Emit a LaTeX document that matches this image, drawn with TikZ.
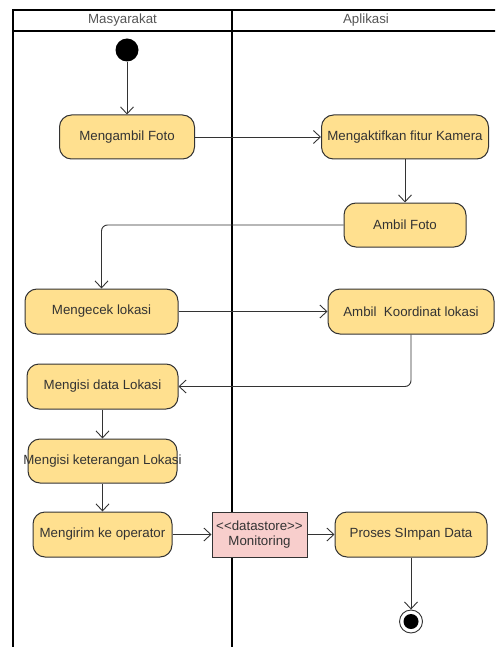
\documentclass[tikz,border=0pt]{standalone}
\usepackage{fontspec}
\setmainfont{Liberation Sans}
\usetikzlibrary{arrows.meta}
\definecolor{actfill}{HTML}{FFE08F}
\definecolor{actdraw}{HTML}{333333}
\definecolor{dsfill}{HTML}{F8CECC}
\definecolor{txt}{HTML}{333333}
\definecolor{hdr}{HTML}{555555}
\begin{document}
\begin{tikzpicture}[x=1pt,y=-1pt,
  font=\fontsize{13.3}{14.7}\selectfont,
  act/.style={draw=actdraw, fill=actfill, rounded corners=12pt, line width=1pt,
    minimum height=45pt, inner sep=0pt, text=txt},
  store/.style={draw=actdraw, fill=dsfill, line width=1pt, minimum height=45pt,
    minimum width=95pt, inner sep=0pt, text=txt, align=center},
  flow/.style={draw=actdraw, line width=0.9pt,
    -{Straight Barb[length=7pt,width=13pt,line width=0.9pt]}},
  lane/.style={line width=1.8pt, draw=black},
  hdrtext/.style={text=hdr}]
\useasboundingbox (0,0) rectangle (495,647);
\clip (0,0) rectangle (495,647);
% swimlanes
\draw[lane] (13,10) rectangle (500,670);
\draw[lane] (13,31) -- (500,31);
\draw[lane] (232,10) -- (232,670);
\node[hdrtext] (h1) at (122.5,20.5) {Masyarakat};
\node[hdrtext] (h2) at (366,20.5) {Aplikasi};
% start
\node[circle, fill=black, minimum size=23pt, inner sep=0pt] (start) at (127,50) {};
% activities
\node[act, minimum width=135pt, minimum height=44pt] (n1) at (127,137) {Mengambil Foto};
\node[act, minimum width=167pt, minimum height=44pt] (n2) at (405,137) {Mengaktifkan fitur Kamera};
\node[act, minimum width=122pt, minimum height=44pt] (n3) at (405,225) {Ambil Foto};
\node[act, minimum width=153pt] (n4) at (101.5,311.5) {Mengecek lokasi};
\node[act, minimum width=166pt] (n5) at (411,311.5) {Ambil\ \ Koordinat lokasi};
\node[act, minimum width=151pt] (n6) at (102.5,386.5) {Mengisi data Lokasi};
\node[act, minimum width=149pt, minimum height=44pt] (n7) at (102.5,461) {\makebox[0pt]{Mengisi keterangan Lokasi}};
\node[act, minimum width=139pt] (n8) at (102.5,534.5) {Mengirim ke operator};
\node[store] (ds) at (259.5,534.5) {<\kern0pt<datastore>\kern0pt>\\Monitoring};
\node[act, minimum width=152pt] (n9) at (411,534.5) {Proses SImpan Data};
% final
\node[circle, draw=actdraw, fill=white, line width=0.9pt, minimum size=23pt, inner sep=0pt] (final) at (411,621.5) {};
\fill[black] (final.center) circle (7.5pt);
% flows
\draw[flow] (start) -- (n1);
\draw[flow] (n1) -- (n2);
\draw[flow] (n2) -- (n3);
\draw[flow, rounded corners=6pt] (n3.west) -| (n4.north);
\draw[flow] (n4) -- (n5);
\draw[flow, rounded corners=6pt] (n5.south) |- (n6.east);
\draw[flow] (n6) -- (n7);
\draw[flow] (n7) -- (n8);
\draw[flow] (n8) -- (ds);
\draw[flow] (ds) -- (n9);
\draw[flow] (n9) -- (final);
\end{tikzpicture}
\end{document}
